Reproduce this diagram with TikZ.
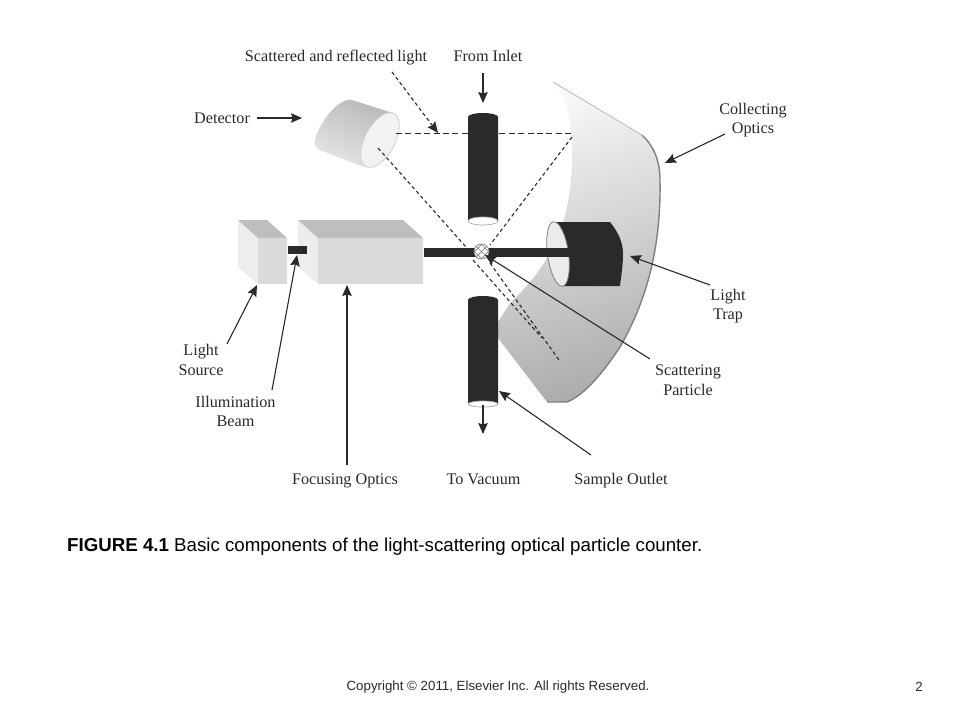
\documentclass[tikz,border=0pt]{standalone}
\usepackage{fontspec}
\setmainfont{Liberation Serif}
\newfontfamily\capfont{Liberation Sans}
\usetikzlibrary{arrows.meta}
\definecolor{ink}{HTML}{2A2A2C}
\definecolor{boxtop}{HTML}{BDBEC0}
\definecolor{boxfront}{HTML}{D9DADB}
\definecolor{boxside}{HTML}{ECEDED}
\tikzset{
  lbl/.style = {font = \fontsize{16.2}{19.5}\selectfont, text = ink, align = center, inner sep = 0pt},
  pointer/.style = {draw = ink, line width = 1.1pt, -{Stealth[length = 11pt, width = 9.5pt, inset = 1.5pt]}},
  sight/.style = {draw = ink, line width = 1.1pt, dash pattern = on 3.6pt off 2.8pt},
  sightlong/.style = {draw = ink, line width = 1pt, dash pattern = on 6pt off 3.4pt},
  mouth/.style = {fill = white, draw = gray!70, line width = 0.7pt}
}
\begin{document}
\begin{tikzpicture}[x = 1pt, y = -1pt]
\useasboundingbox (0, 0) rectangle (960, 720);
\fill[white] (0, 0) rectangle (960, 720);
% collecting mirror
\shade[top color = white!97!black, middle color = white!89!black, bottom color = white!68!black, shading angle = 18]
    (553, 82) -- (642, 135) .. controls (653, 145) and (660, 160) .. (660, 180)
    .. controls (661, 240) and (650, 295) .. (620, 347)
    .. controls (605, 370) and (585, 395) .. (567, 402) -- (547, 402) -- (498, 338) -- (498, 322)
    -- (510, 303) .. controls (545, 270) and (566, 235) .. (571, 180)
    .. controls (574, 140) and (572, 100) .. (553, 82);
\draw[gray!60, line width = 0.7pt] (553, 82) -- (642, 135);
\draw[gray, line width = 1.4pt] (642, 135) .. controls (653, 145) and (660, 160) .. (660, 180)
    .. controls (661, 240) and (650, 295) .. (620, 347)
    .. controls (605, 370) and (585, 395) .. (567, 402) -- (547, 402);
% detector
\shade[top color = white!72!black, bottom color = white!90!black, shading angle = -25]
    (393, 113) -- (352, 100) .. controls (338, 97) and (318, 125) .. (315, 140)
    .. controls (314, 146) and (316, 148) .. (320, 150) -- (364, 167) -- cycle;
\draw[fill = white!95!black, draw = white!82!black, line width = 0.8pt, rotate around = {62 : (380, 140)}]
    (380, 140) ellipse [x radius = 30pt, y radius = 15pt];
% sight lines
\draw[sightlong] (396, 133) -- (572, 133);
\foreach \xa/\ya/\xb/\yb in {572/137/490/245,
                             378/148/474/256,
                             473/260/542/338,
                             490/263/559/360}
    \draw[sight] (\xa, \ya) -- (\xb, \yb);
% sample tubes
\foreach \ytop/\ybot/\ry in {113/221/4, 296/404/3} {
    \fill[ink] (468, \ytop + 4) arc[start angle = 180, end angle = 0, x radius = 15pt, y radius = 4pt]
        -- (498, \ybot) -- (468, \ybot) -- cycle;
    \draw[mouth] (483, \ybot) ellipse [x radius = 15pt, y radius = \ry pt];
}
% light source and focusing optics
\foreach \xa/\xb/\xc/\xd in {238/258/267/287, 298/318/403/423} {
    \fill[boxside] (\xa, 220) -- (\xb, 238) -- (\xb, 284) -- (\xa, 267) -- cycle;
    \fill[boxtop] (\xa, 220) -- (\xc, 220) -- (\xd, 238) -- (\xb, 238) -- cycle;
    \fill[boxfront] (\xb, 238) rectangle (\xd, 284);
}
% light trap
\fill[ink] (555, 222) -- (610, 222) .. controls (618, 232) and (623, 242) .. (623, 254)
    .. controls (623, 266) and (621, 277) .. (620, 286) -- (563, 286) -- cycle;
\draw[fill = white!92!black, draw = gray, line width = 0.8pt, rotate around = {8 : (558, 254)}]
    (558, 254) ellipse [x radius = 10.5pt, y radius = 32.5pt];
% beams
\fill[ink] (288, 246) rectangle (307, 254);
\fill[ink] (424, 248) rectangle (570, 257);
% particle
\node[circle, fill = white, draw = gray, line width = 0.7pt, minimum size = 15pt, inner sep = 0pt] (particle) at (481.5, 251.5) {};
\begin{scope}
\clip (481.5, 251.5) circle (7.2pt);
\foreach \d in {-14, -7, 0, 7, 14} {
    \draw[gray, line width = 0.7pt] (481.5 + \d - 9, 251.5 - 9) -- (481.5 + \d + 9, 251.5 + 9);
    \draw[gray, line width = 0.7pt] (481.5 + \d + 9, 251.5 - 9) -- (481.5 + \d - 9, 251.5 + 9);
}
\end{scope}
% labels
\node[lbl] (scattered) at (336, 57.5) {Scattered and reflected light};
\node[lbl] (inlet) at (488, 56) {From Inlet};
\node[lbl] (detectorlabel) at (222, 118) {Detector};
\node[lbl] (collecting) at (753, 120) {Collecting\\Optics};
\node[lbl] (trap) at (728, 306) {Light\\Trap};
\node[lbl] (scatpart) at (688, 380) {Scattering\\Particle};
\node[lbl] (source) at (201, 360) {Light\\Source};
\node[lbl] (illum) at (235.5, 411.5) {Illumination\\Beam};
\node[lbl] (focusing) at (345, 481) {Focusing Optics};
\node[lbl] (vacuum) at (483.5, 479) {To Vacuum};
\node[lbl] (outlet) at (621, 481) {Sample Outlet};
% arrow targets
\coordinate (inlettip) at (483, 103);
\coordinate (detectortip) at (302, 118);
\coordinate (mirrortip) at (665, 163);
\coordinate (traptip) at (630, 256);
\coordinate (particletip) at (485, 255);
\coordinate (outlettip) at (499, 391);
\coordinate (sourcetip) at (257, 285);
\coordinate (beamtip) at (297, 255);
\coordinate (focustip) at (347, 285);
\coordinate (lighttip) at (438, 133);
\coordinate (lightstart) at (392, 72);
\coordinate (tubeend) at (483, 405);
\coordinate (vacuumtip) at (483, 434);
\draw[pointer] ([xshift = -5pt, yshift = -17pt]inlet.center) -- (inlettip);
\draw[pointer] ([xshift = 35pt]detectorlabel.center) -- (detectortip);
\draw[pointer] ([xshift = -28pt, yshift = -14pt]collecting.center) -- (mirrortip);
\draw[pointer] ([xshift = -18pt, yshift = 21pt]trap.center) -- (traptip);
\draw[pointer] ([xshift = -38pt, yshift = 21pt]scatpart.center) -- (particletip);
\draw[pointer] ([xshift = -30pt, yshift = 26pt]outlet.center) -- (outlettip);
\draw[pointer] ([xshift = 26pt, yshift = 16pt]source.center) -- (sourcetip);
\draw[pointer] ([xshift = 36.5pt, yshift = 21.5pt]illum.center) -- (beamtip);
\draw[pointer] ([xshift = 2pt, yshift = 16pt]focusing.center) -- (focustip);
\draw[pointer] (tubeend) -- (vacuumtip);
\draw[sight, -{Stealth[length = 11pt, width = 9.5pt, inset = 1.5pt]}] (lightstart) -- (lighttip);
% caption and footer
\node[font = \capfont\fontsize{18.7}{22}\selectfont, anchor = west, inner sep = 0pt, text = black] (caption) at (67, 547)
    {\textbf{FIGURE 4.1} Basic components of the light-scattering optical particle counter.};
\node[font = \capfont\fontsize{13.3}{16}\selectfont, inner sep = 0pt, text = ink] (copyright) at (498, 687)
    {Copyright © 2011, Elsevier Inc. All rights Reserved.};
\node[font = \capfont\fontsize{13.3}{16}\selectfont, inner sep = 0pt, text = ink] (pagenum) at (919, 687) {2};
\end{tikzpicture}
\end{document}
